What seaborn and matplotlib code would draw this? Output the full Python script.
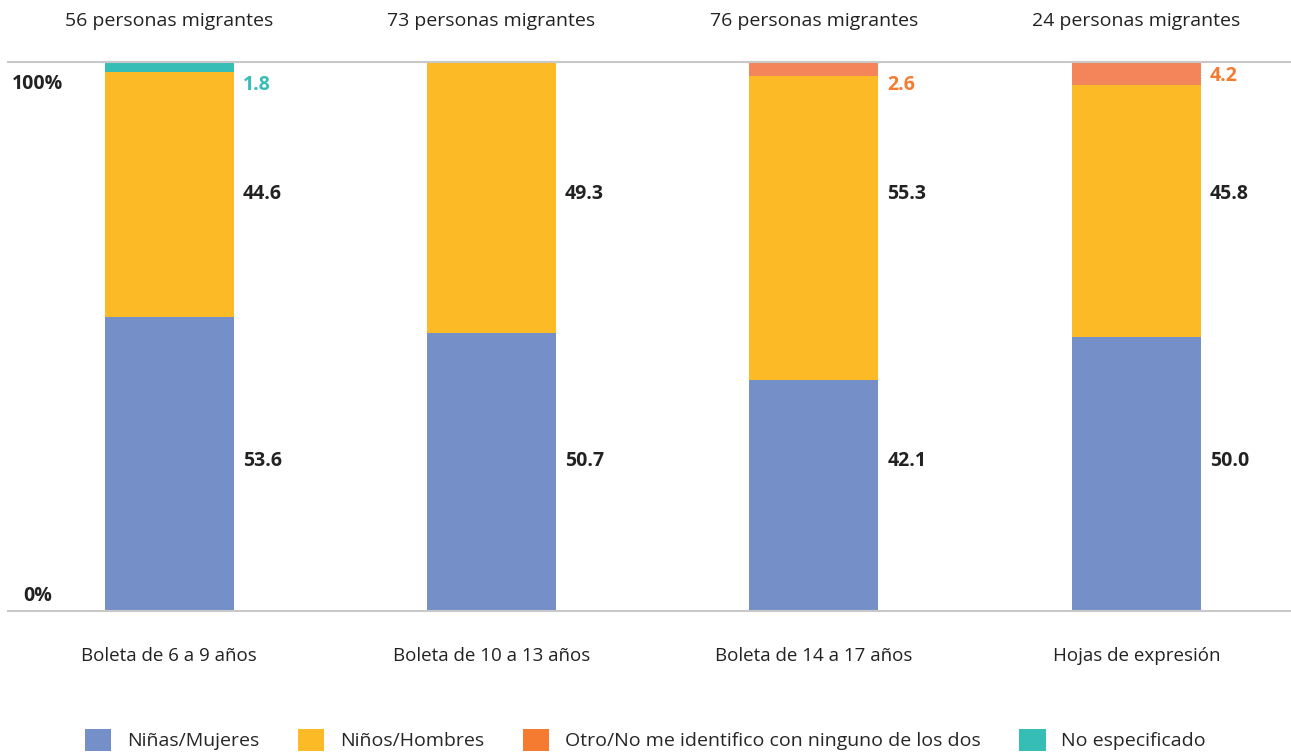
import matplotlib
matplotlib.use('Agg')
import matplotlib.pyplot as plt
import seaborn as sns
import pandas as pd
from matplotlib.patches import Patch

# Datos
grupos = ['Boleta de 6 a 9 años', 'Boleta de 10 a 13 años',
          'Boleta de 14 a 17 años', 'Hojas de expresión']
totales = [56, 73, 76, 24]
mujeres = [53.6, 50.7, 42.1, 50.0]
hombres = [44.6, 49.3, 55.3, 45.8]
otro = [0.0, 0.0, 2.6, 4.2]
no_esp = [1.8, 0.0, 0.0, 0.0]

series = ['Niñas/Mujeres', 'Niños/Hombres',
          'Otro/No me identifico con ninguno de los dos', 'No especificado']
colores_barra = ['#7590C9', '#FBBA26', '#F4845A', '#36BDB6']
colores_leyenda = ['#7590C9', '#FBBA26', '#F47B30', '#36BDB6']
colores_texto = ['#222222', '#222222', '#F47B30', '#36BDB6']

df = pd.DataFrame({'grupo': grupos, 'm': mujeres, 'h': hombres,
                   'o': otro, 'n': no_esp})
df['c1'] = df['m']
df['c2'] = df['c1'] + df['h']
df['c3'] = df['c2'] + df['o']
df['c4'] = df['c3'] + df['n']

sns.set_style('white')
plt.rcParams['font.family'] = ['Open Sans', 'DejaVu Sans']

fig = plt.figure(figsize=(12.91, 7.52), dpi=100)
ax = fig.add_axes([8 / 1291, 1 - 611 / 752, 1 - 8 / 1291, (611 - 62) / 752])

# barras apiladas: se dibujan las acumuladas de mayor a menor
for col, color in zip(['c4', 'c3', 'c2', 'c1'], colores_barra[::-1]):
    sns.barplot(data=df, x='grupo', y=col, color=color, width=0.4,
                saturation=1, ax=ax, linewidth=0)

ax.set_xlim(-0.5, 3.48)
ax.set_ylim(0, 100)
ax.set_xlabel('')
ax.set_ylabel('')
ax.set_yticks([])
ax.tick_params(axis='x', length=0, pad=26, labelsize=13.5, colors='#222222')
for s in ['left', 'right']:
    ax.spines[s].set_visible(False)
for s in ['top', 'bottom']:
    ax.spines[s].set_color('#c8c8c8')
    ax.spines[s].set_linewidth(1.5)

# etiquetas de valores (a alturas fijas, como en el original)
for i in range(len(grupos)):
    ax.text(i + 0.228, 27.3, f'{mujeres[i]:.1f}', ha='left', va='center',
            fontsize=14, fontweight='bold', color=colores_texto[0])
    ax.text(i + 0.228, 76.0, f'{hombres[i]:.1f}', ha='left', va='center',
            fontsize=14, fontweight='bold', color=colores_texto[1])
    for k, v in [(2, otro[i]), (3, no_esp[i])]:
        if v > 0:
            y = 95.8 if v < 3 else 100 - v / 2 - 0.5
            ax.text(i + 0.228, y, f'{v:.1f}', ha='left', va='center',
                    fontsize=14, fontweight='bold', color=colores_texto[k])
    ax.text(i, 107.4, f'{totales[i]} personas migrantes', ha='center',
            va='center', fontsize=14, color='#222222', clip_on=False)

ax.text(-0.408, 96, '100%', ha='center', va='center', fontsize=14,
        fontweight='bold', color='#222222')
ax.text(-0.408, 2.7, '0%', ha='center', va='center', fontsize=14,
        fontweight='bold', color='#222222')

handles = [Patch(facecolor=c, edgecolor='none') for c in colores_leyenda]
fig.legend(handles, series, loc='center', bbox_to_anchor=(0.5, 12 / 752),
           ncol=4, frameon=False, fontsize=14, handlelength=1.35,
           handleheight=1.4, handletextpad=0.8, columnspacing=2.0)

fig.savefig('out.png', dpi=100)
plt.close()
